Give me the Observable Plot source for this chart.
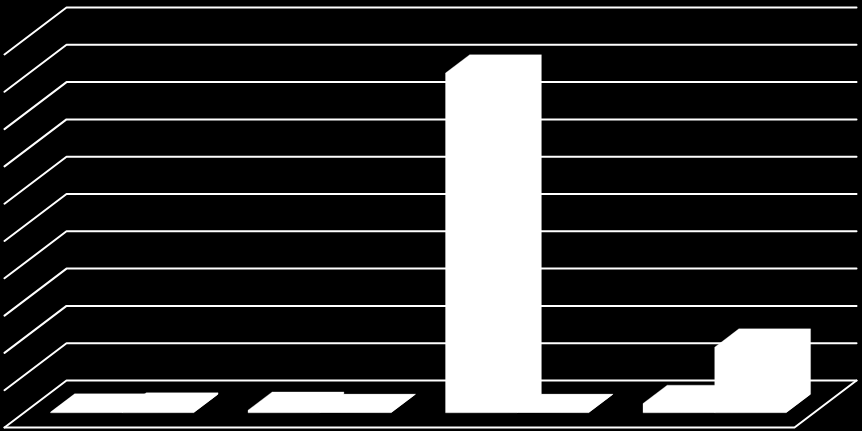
<!DOCTYPE html>
<html>
<head>
<meta charset="utf-8">
<script src="https://cdn.jsdelivr.net/npm/d3@7"></script>
<script src="https://cdn.jsdelivr.net/npm/@observablehq/plot@0.6"></script>
<style>
html,body{margin:0;padding:0;background:#000;overflow:hidden}
svg{display:block}
</style>
</head>
<body>
<div id="chart"></div>
<script>
const categories = [0, 1, 2, 3];
const seriesA = [0.1, 0.6, 91, 2.4];
const seriesB = [0.4, 0, 0, 17.5];
const gridTicks = [0, 10, 20, 30, 40, 50, 60, 70, 80, 90, 100];

const seriesList = [seriesA, seriesB];
const chartWidth = 862, chartHeight = 431;

// 3D oblique projection: depth 0 = front of floor, depth 1 = back wall
const shearX = 0.314;   // category units per depth
const dropY = 12.6;     // value units per depth
const project = (cat, value, depth) => ({
  x: cat + depth * shearX,
  y: value + (depth - 1) * dropY
});

const barPad = 0.1325, barW = 0.363, d0 = 0.32, d1 = 0.71;

const gridPts = gridTicks.flatMap((t) => [
  {...project(0, t, 0), k: t},
  {...project(0, t, 1), k: t},
  {...project(4, t, 1), k: t}
]);
const floorPts = [project(0, 0, 0), project(4, 0, 0), project(4, 0, 1)];

// silhouette of each bar: front face, top and side joined into one outline
const bars = seriesList.flatMap((values, s) =>
  categories.flatMap((c) => {
    const left = c + barPad + s * barW, right = left + barW, v = values[c];
    const k = `${s}-${c}`;
    return [
      project(left, 0, d0), project(left, v, d0), project(left, v, d1),
      project(right, v, d1), project(right, 0, d1), project(right, 0, d0)
    ].map((p) => ({...p, k}));
  })
);

// shared footprint of a cluster, which closes the seam between its two bars
const footprints = categories.flatMap((c) => {
  const left = c + barPad, right = left + 2 * barW;
  return [
    project(left, 0, d0), project(left, 0, d1),
    project(right, 0, d1), project(right, 0, d0)
  ].map((p) => ({...p, k: c}));
});

const chart = Plot.plot({
  width: chartWidth,
  height: chartHeight,
  margin: 0,
  style: {background: "#000"},
  x: {type: "linear", domain: [0, 4], range: [4, 794], axis: null},
  y: {type: "linear", domain: [0, 100], range: [380, 7], axis: null},
  marks: [
    Plot.line(gridPts, {x: "x", y: "y", z: "k", stroke: "#fff", strokeWidth: 2, curve: "linear"}),
    Plot.line(floorPts, {x: "x", y: "y", stroke: "#fff", strokeWidth: 2, curve: "linear"}),
    Plot.line(bars, {x: "x", y: "y", z: "k", fill: "#fff", stroke: "#fff", strokeWidth: 0.3, curve: "linear-closed"}),
    Plot.line(footprints, {x: "x", y: "y", z: "k", fill: "#fff", stroke: "none", curve: "linear-closed"})
  ]
});
document.getElementById("chart").append(chart);
</script>
</body>
</html>
